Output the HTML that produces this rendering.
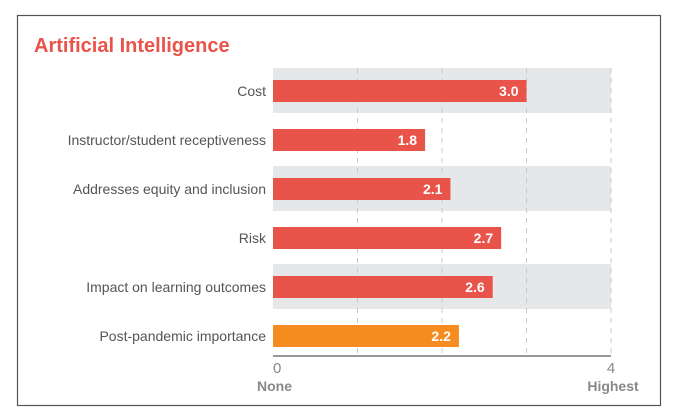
<!DOCTYPE html>
<html><head><style>
body{margin:0;background:#fff;}
svg text{font-family:"Liberation Sans",sans-serif;}
</style></head><body>
<svg width="676" height="415">
<rect x="17.5" y="15.5" width="643" height="390" fill="none" stroke="#555" stroke-width="1.2"/>
<text x="34" y="52" font-size="20" font-weight="bold" fill="#e8534a">Artificial Intelligence</text>
<g id="g"></g>
</svg>
<script>
const categories=["Cost","Instructor/student receptiveness","Addresses equity and inclusion","Risk","Impact on learning outcomes","Post-pandemic importance"];
const values=[3.0,1.8,2.1,2.7,2.6,2.2];
const ticks=[0,1,2,3,4];
const g=document.getElementById('g');const NS='http://www.w3.org/2000/svg';
const x0=273,x1=611,vmax=4;const X=v=>x0+(x1-x0)*v/vmax;
const rowTop=91,step=49;const Y=i=>rowTop+step*i;
function el(t,a){const e=document.createElementNS(NS,t);for(const k in a)e.setAttribute(k,a[k]);g.appendChild(e);return e;}
categories.forEach((c,i)=>{if(i%2==0){const b=el('rect',{x:x0,y:Y(i)-23,width:x1-x0,height:45,fill:'#e6e7e8'});

}});
ticks.slice(1).forEach(t=>{const l=el('line',{x1:X(t),x2:X(t),y1:68,y2:356,stroke:'#c8c8c8','stroke-dasharray':'5,5','stroke-width':1});

});
categories.forEach((c,i)=>{
const r=el('rect',{x:x0,y:Y(i)-11,width:X(values[i])-x0,height:22,fill:i==5?'#f68b20':'#e8534a'});


const v=el('text',{x:X(values[i])-8,y:Y(i)+5,'font-size':14,'font-weight':'bold',fill:'#fff','text-anchor':'end'});v.textContent=values[i].toFixed(1);


const t=el('text',{x:266,y:Y(i)+5,'font-size':14,fill:'#555','text-anchor':'end'});t.textContent=c;

});
const ax=el('line',{x1:x0,x2:x1,y1:356,y2:356,stroke:'#777','stroke-width':1.5});


[[0,'None'],[4,'Highest']].forEach(([t,n])=>{
const a=el('text',{x:X(t),y:373,'font-size':15,fill:'#888','text-anchor':t?'middle':'start'});a.textContent=t;


const b=el('text',{x:t?X(t)+2:X(t)-16,y:391,'font-size':14,'font-weight':'bold',fill:'#888','text-anchor':t?'middle':'start'});b.textContent=n;

});
</script>
</body></html>
